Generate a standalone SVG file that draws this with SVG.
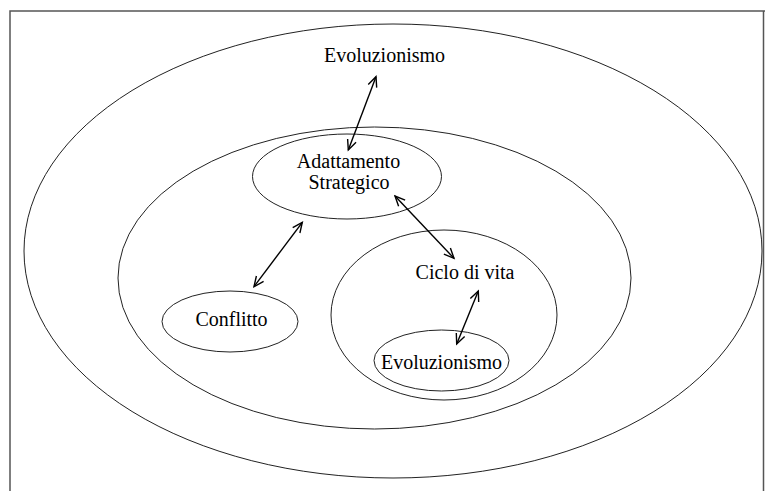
<svg xmlns="http://www.w3.org/2000/svg" width="765" height="491" viewBox="0 0 765 491">
<defs>
<style>
.frame{fill:none;stroke:#555;stroke-width:1.5}
.ring{fill:none;stroke:#222;stroke-width:1}
.lbl{font-family:"Liberation Serif","Times New Roman",serif;font-size:20px;fill:#000;text-anchor:middle}
.arr{fill:none;stroke:#000;stroke-width:1.4;marker-start:url(#ah);marker-end:url(#ah)}
</style>
<marker id="ah" viewBox="-12 -6 14 12" refX="0" refY="0" markerWidth="14" markerHeight="12" markerUnits="userSpaceOnUse" orient="auto-start-reverse">
<path d="M-10,-4.5 L0,0 L-10,4.5" fill="none" stroke="#000" stroke-width="1.4"/>
</marker>
</defs>
<rect width="765" height="491" fill="#fff"/>
<path class="frame" d="M10,491 V11 H765"/>
<line class="frame" x1="763.5" y1="11" x2="763.5" y2="491" stroke-width="1"/>
<g id="outer">
<ellipse class="ring" cx="393" cy="251" rx="369" ry="227"/>
<text class="lbl" x="384.5" y="62" font-size="19.5">Evoluzionismo</text>
</g>
<g id="middle">
<ellipse class="ring" cx="374.5" cy="278" rx="256.5" ry="151"/>
</g>
<g id="adattamento">
<ellipse class="ring" cx="347" cy="176.5" rx="94.5" ry="42.5"/>
<text class="lbl" x="348.5" y="168">Adattamento</text>
<text class="lbl" x="349" y="189">Strategico</text>
</g>
<g id="conflitto">
<ellipse class="ring" cx="230" cy="321.5" rx="68" ry="30.5"/>
<text class="lbl" x="231.5" y="326">Conflitto</text>
</g>
<g id="ciclo">
<ellipse class="ring" cx="444" cy="315" rx="113" ry="85"/>
<text class="lbl" x="465" y="279">Ciclo di vita</text>
</g>
<g id="evoluzionismo-inner">
<ellipse class="ring" cx="441.5" cy="360.5" rx="67.5" ry="30.5"/>
<text class="lbl" x="441.5" y="369">Evoluzionismo</text>
</g>
<g id="connectors">
<line class="arr" x1="376" y1="76.7" x2="348.3" y2="150"/>
<line class="arr" x1="302.3" y1="222.3" x2="254" y2="286.7"/>
<line class="arr" x1="395" y1="196" x2="454" y2="258.3"/>
<line class="arr" x1="478.3" y1="291" x2="456.7" y2="344"/>
</g>
</svg>
